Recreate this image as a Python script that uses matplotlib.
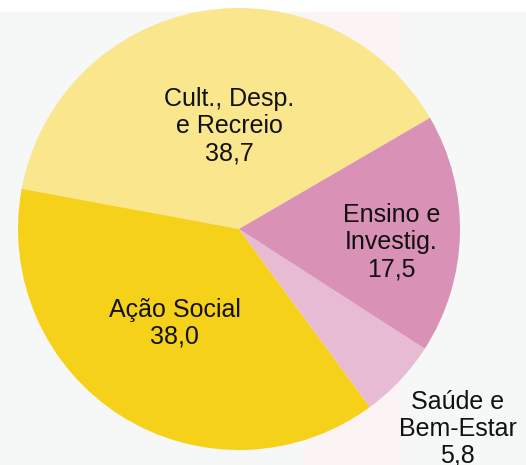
import matplotlib.pyplot as plt
from matplotlib.patches import Rectangle

plt.rcParams['font.family'] = ['Liberation Sans', 'DejaVu Sans']

categories = ["Cult., Desp.\ne Recreio", "Ação Social", "Saúde e\nBem-Estar", "Ensino e\nInvestig."]
values = [38.7, 38.0, 5.8, 17.5]
valueLabels = ["38,7", "38,0", "5,8", "17,5"]
colors = ["#FAE68D", "#F6D11A", "#E8BBD5", "#D991B6"]

# label anchor points (data units, pie radius = 1)
labelPos = [(-0.045, 0.465), (-0.29, -0.425), (0.99, -0.905), (0.69, -0.06)]

W, H = 526, 465
cx, cy, R = 239, 229, 221

fig = plt.figure(figsize=(W / 100, H / 100), dpi=100)
fig.patches.append(Rectangle((0, 0), 1, 453 / H, transform=fig.transFigure,
                             color="#F6F8F8", zorder=-2))
fig.patches.append(Rectangle((305 / W, 0), 95 / W, 453 / H, transform=fig.transFigure,
                             color="#FCF4F4", zorder=-1))
ax = fig.add_axes([0, 0, 1, 1])
ax.patch.set_alpha(0)

ax.pie(values, colors=colors, startangle=30.2, counterclock=True,
       wedgeprops=dict(linewidth=0))

for cat, val, (x, y) in zip(categories, valueLabels, labelPos):
    ax.text(x, y, cat + "\n" + val, ha="center", va="center", fontsize=18,
            color="#111111", linespacing=1.15)

ax.set_xlim(-cx / R, (W - cx) / R)
ax.set_ylim(-(H - cy) / R, cy / R)
ax.set_aspect("equal")
ax.axis("off")

fig.savefig("out.png", dpi=100)
